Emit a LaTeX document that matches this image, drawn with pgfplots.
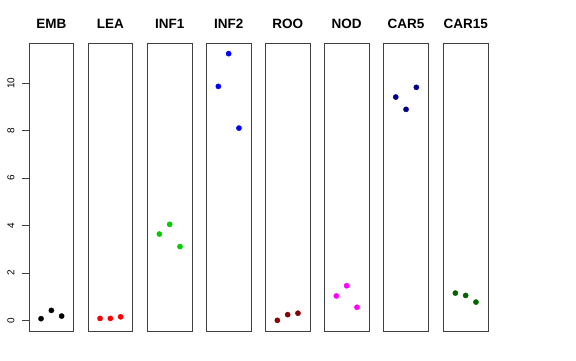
\documentclass[border=0pt]{standalone}
\usepackage{fontspec}
\setmainfont{Liberation Sans}
\usepackage{pgfplots}
\pgfplotsset{compat=1.18}
\definecolor{green3}{RGB}{0,205,0}
\definecolor{rdarkred}{RGB}{139,0,0}
\definecolor{rdarkblue}{RGB}{0,0,139}
\definecolor{rdarkgreen}{RGB}{0,100,0}
\definecolor{rmagenta}{RGB}{255,0,255}
\definecolor{rred}{RGB}{255,0,0}
\definecolor{rblue}{RGB}{0,0,255}
\begin{document}
\begin{tikzpicture}
\useasboundingbox (0,0) rectangle (576pt,360pt);
\pgfplotsset{panel/.style={width=44.7pt,height=288pt,scale only axis,
  xmin=-0.17,xmax=4.17,ymin=-0.45,ymax=11.7,xtick=\empty,ytick=\empty,
  axis line style={black!75,line width=0.8pt},anchor=north west,
  title style={anchor=base,at={(0.5,1)},yshift=9pt,font=\fontsize{13.5}{16}\selectfont\bfseries},
  every axis plot/.append style={only marks,mark=*,mark size=2.6pt}}}
\begin{axis}[panel,at={(29pt,317pt)},title={EMB},
  ytick={0,2,4,6,8,10},ytick pos=left,tick align=outside,major tick length=7pt,
  ytick style={black!75,line width=0.8pt},
  /pgf/number format/assume math mode=true,
  yticklabel style={xshift=-4pt,rotate=90,anchor=south,font=\fontsize{10}{12}\selectfont}]
\addplot[color=black] coordinates {(1,0.07) (2,0.42) (3,0.18)};
\end{axis}
\begin{axis}[panel,at={(88pt,317pt)},title={LEA}]
\addplot[color=rred] coordinates {(1,0.08) (2,0.08) (3,0.15)};
\end{axis}
\begin{axis}[panel,at={(147.3pt,317pt)},title={INF1}]
\addplot[color=green3] coordinates {(1,3.64) (2,4.05) (3,3.11)};
\end{axis}
\begin{axis}[panel,at={(206.3pt,317pt)},title={INF2}]
\addplot[color=rblue] coordinates {(1,9.87) (2,11.25) (3,8.11)};
\end{axis}
\begin{axis}[panel,at={(265.3pt,317pt)},title={ROO}]
\addplot[color=rdarkred] coordinates {(1,0.0) (2,0.24) (3,0.30)};
\end{axis}
\begin{axis}[panel,at={(324.3pt,317pt)},title={NOD}]
\addplot[color=rmagenta] coordinates {(1,1.03) (2,1.46) (3,0.55)};
\end{axis}
\begin{axis}[panel,at={(383.7pt,317pt)},title={CAR5}]
\addplot[color=rdarkblue] coordinates {(1,9.42) (2,8.90) (3,9.83)};
\end{axis}
\begin{axis}[panel,at={(443.3pt,317pt)},title={CAR15}]
\addplot[color=rdarkgreen] coordinates {(1,1.15) (2,1.05) (3,0.77)};
\end{axis}
\end{tikzpicture}
\end{document}
